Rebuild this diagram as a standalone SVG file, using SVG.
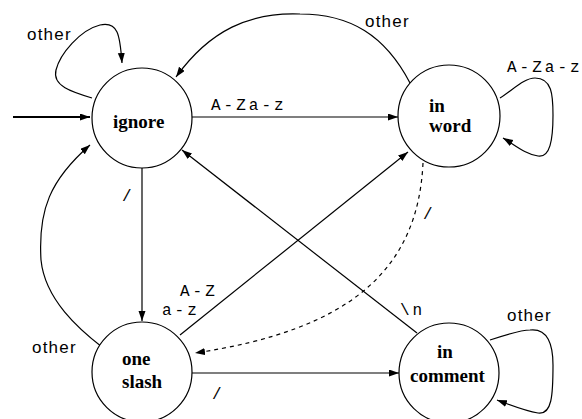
<svg xmlns="http://www.w3.org/2000/svg" width="582" height="419" viewBox="0 0 582 419">
<style>
.node circle{fill:#fff;stroke:#000;stroke-width:1.2}
.nl{font-family:"Liberation Serif","Times New Roman",serif;font-weight:bold;font-size:19px;fill:#000}
.e{fill:none;stroke:#000;stroke-width:1.2}
.d{stroke-dasharray:4 4}
.lab{font-family:"Liberation Sans",Arial,sans-serif;font-size:17px;fill:#000;letter-spacing:1.2px}
.mono{font-family:"Liberation Mono","Courier New",monospace;font-size:16px;fill:#000;letter-spacing:3px}
</style>
<defs>
<marker id="ah" markerUnits="userSpaceOnUse" markerWidth="10" markerHeight="8" refX="10" refY="3.5" orient="auto">
<path d="M0,0 L10,3.5 L0,7 z" fill="#000"/>
</marker>
</defs>
<rect width="582" height="419" fill="#fff"/>
<g id="connectors">
<path class="e" d="M13,117 L90,117" style="stroke-width:2" marker-end="url(#ah)"/>
<path class="e" d="M92,98 C72,92 52,86 56,70 C60,54 80,30 100,25 C118,21 120,35 122,63" marker-end="url(#ah)"/>
<path class="e" d="M410,83 C385,35 350,14 300,14 C250,12 210,30 176,77" marker-end="url(#ah)"/>
<path class="e" d="M192,117 L398,117" marker-end="url(#ah)"/>
<path class="e" d="M500,98 C515,88 525,78 535,78 C552,78 553,95 553,115 C553,140 550,158 538,156 C525,154 515,145 503,138" marker-end="url(#ah)"/>
<path class="e" d="M142,168 L142,321" marker-end="url(#ah)"/>
<path class="e" d="M102,347 C80,330 45,300 41,260 C38,210 50,180 90,145" marker-end="url(#ah)"/>
<path class="e" d="M180,335 L408,152" marker-end="url(#ah)"/>
<path class="e" d="M417,333 L182,150" marker-end="url(#ah)"/>
<path class="e d" d="M423,163 C418,270 350,330 195,353" marker-end="url(#ah)"/>
<path class="e" d="M192,373 L399,373" marker-end="url(#ah)"/>
<path class="e" d="M490,340 C505,335 520,330 530,330 C548,328 553,345 553,365 C553,395 552,415 538,413 C525,411 510,405 497,400" marker-end="url(#ah)"/>
<text class="lab" x="27" y="40">other</text>
<text class="lab" x="365" y="27">other</text>
<text class="mono" x="211" y="110">A-Za-z</text>
<text class="mono" x="507" y="72">A-Za-z</text>
<text class="mono" x="122" y="201">/</text>
<text class="lab" x="32" y="353">other</text>
<text class="mono" x="180" y="296">A-Z</text>
<text class="mono" x="162" y="315">a-z</text>
<text class="mono" x="400" y="315">\n</text>
<text class="mono" x="423" y="219">/</text>
<text class="mono" x="212" y="399">/</text>
<text class="lab" x="507" y="321">other</text>
</g>
<g id="ignore" class="node">
<circle cx="142" cy="118" r="50"/>
<text class="nl" x="113" y="128">ignore</text>
</g>
<g id="inword" class="node">
<circle cx="449" cy="116" r="51"/>
<text class="nl" x="429" y="112">in</text>
<text class="nl" x="429" y="132">word</text>
</g>
<g id="oneslash" class="node">
<circle cx="142" cy="372" r="50"/>
<text class="nl" x="122" y="365">one</text>
<text class="nl" x="122" y="388">slash</text>
</g>
<g id="incomment" class="node">
<circle cx="449" cy="373" r="50"/>
<text class="nl" x="437" y="358">in</text>
<text class="nl" x="410" y="382">comment</text>
</g>
</svg>
